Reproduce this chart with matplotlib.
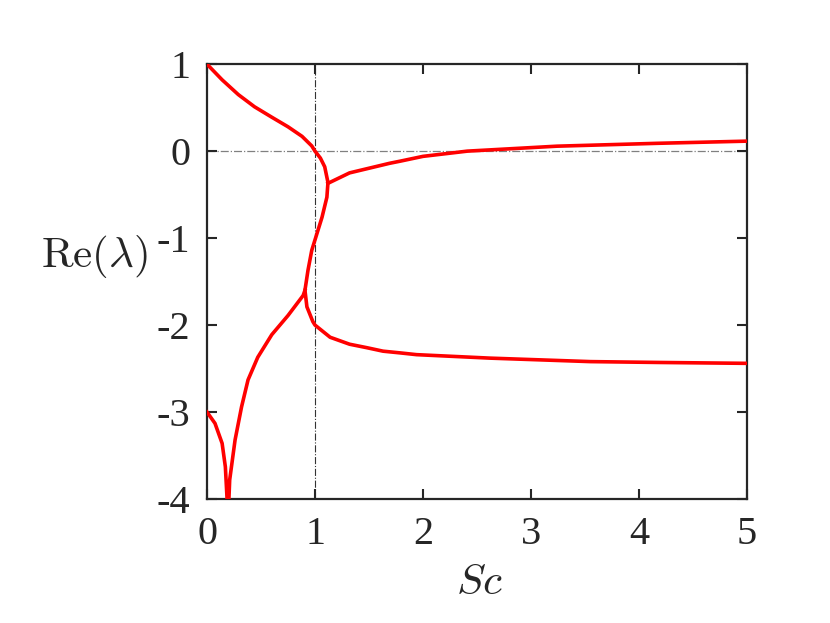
import matplotlib
matplotlib.use("Agg")
import matplotlib.pyplot as plt

# Data
sc_main = [0, 0.07, 0.14, 0.29, 0.44, 0.60, 0.75, 0.88, 0.97, 1.0, 1.05, 1.09,
           1.12, 1.11, 1.065, 1.02, 0.97, 0.935, 0.907, 0.925, 0.98, 1.0, 1.09, 1.14, 1.32,
           1.48, 1.63, 1.79, 1.94, 2.62, 3.55, 4.2, 5.0]
re_main = [1, 0.91, 0.82, 0.65, 0.51, 0.39, 0.28, 0.17, 0.06, 0, -0.08, -0.18,
           -0.36, -0.53, -0.76, -0.94, -1.14, -1.37, -1.60, -1.79, -1.96, -2.0, -2.09, -2.14, -2.22,
           -2.26, -2.30, -2.32, -2.34, -2.38, -2.42, -2.43, -2.44]

sc_upper = [1.12, 1.32, 1.69, 1.79, 2.0, 2.41, 3.24, 4.17, 5.0]
re_upper = [-0.37, -0.25, -0.14, -0.115, -0.06, 0.0, 0.057, 0.09, 0.115]

sc_lower = [0, 0.074, 0.14, 0.17, 0.185, 0.193, 0.21, 0.26, 0.32, 0.38, 0.47,
            0.60, 0.75, 0.89, 0.907]
re_lower = [-3.0, -3.13, -3.36, -3.63, -3.98, -4.3, -3.78, -3.32, -2.94, -2.63, -2.37,
            -2.11, -1.89, -1.66, -1.60]

xticks = [0, 1, 2, 3, 4, 5]
yticks = [1, 0, -1, -2, -3, -4]

plt.rcParams['mathtext.fontset'] = 'cm'
plt.rcParams['font.family'] = ['Liberation Serif', 'DejaVu Serif']

fig = plt.figure(figsize=(8.3, 6.23), dpi=100)
ax = fig.add_axes([0.2494, 0.199, 0.6506, 0.698])

ax.axvline(1, color='#333333', lw=0.8, ls='-.', zorder=1)
ax.axhline(0, color='#808080', lw=0.9, ls='-.', zorder=1)

red = '#ff0000'
ax.plot(sc_main, re_main, color=red, lw=2.6, zorder=3, solid_joinstyle='round')
ax.plot(sc_upper, re_upper, color=red, lw=2.6, zorder=3, solid_joinstyle='round')
ax.plot(sc_lower, re_lower, color=red, lw=2.6, zorder=3, solid_joinstyle='round')

ax.set_xlim(0, 5)
ax.set_ylim(-4, 1)
ax.set_xticks(xticks)
ax.set_yticks(yticks)
ax.set_yticklabels([str(v) for v in yticks])
ax.tick_params(direction='in', top=True, right=True, length=7, width=1.5,
               labelsize=29, color='#262626', labelcolor='#262626')
ax.tick_params(axis='x', pad=12)
ax.tick_params(axis='y', pad=12)
for s in ax.spines.values():
    s.set_linewidth(1.6)
    s.set_color('#262626')

fig.text(479 / 830, 1 - 584 / 623, r'$Sc$', fontsize=31, color='#262626',
         ha='center', va='center')
fig.text(95 / 830, 1 - 257 / 623, r'$\mathrm{Re}(\lambda)$', fontsize=31, color='#262626',
         ha='center', va='center')

fig.savefig('out.png', dpi=100)
